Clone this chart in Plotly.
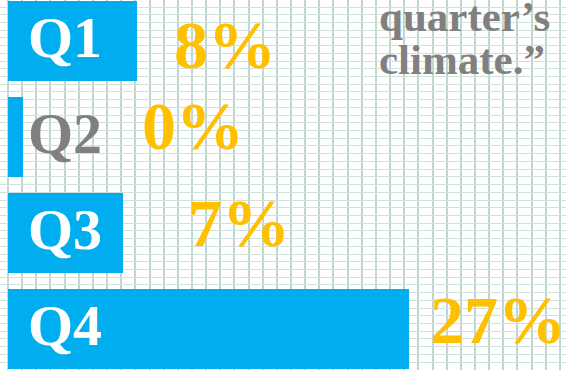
import plotly.graph_objects as go

quarters = ["Q1", "Q2", "Q3", "Q4"]
values = [8, 0, 7, 27]
pct_labels = ["8%", "0%", "7%", "27%"]
quote_lines = ["quarter’s", "climate.”"]

BLUE = "#00AEEF"
GOLD = "#FFC000"
GREY = "#808080"
GRID_V = "#c0d6ce"
GRID_H = "#cfe1db"

W, H = 566, 370
PX_PER_UNIT = 14.3
GRID_PX = 14.15
ZERO_PX = 22.6
ROW_PITCH = 96.0
ROW0_PX = 40.5
BASE = -1

ypos = list(range(len(quarters)))

fig = go.Figure()
fig.add_trace(go.Bar(
    y=ypos,
    x=[v - BASE for v in values],
    base=BASE,
    orientation="h",
    width=80 / ROW_PITCH,
    marker=dict(color=BLUE, line=dict(width=0)),
    hoverinfo="skip",
    showlegend=False,
))

pct_xshift = [35, 117, 63, 19]
pct_yshift = [-4, 11, 10, 9]
q_yshift = [3, 3, 3, 3]

annotations = []
for i, (q, v, lab) in enumerate(zip(quarters, values, pct_labels)):
    inside = v > 2
    annotations.append(dict(
        x=BASE, y=i, xref="x", yref="y", text="<b>%s</b>" % q,
        xanchor="left", yanchor="middle", xshift=18, yshift=q_yshift[i],
        showarrow=False,
        font=dict(family="Liberation Serif", size=58, color="white" if inside else GREY),
    ))
    annotations.append(dict(
        x=v, y=i, xref="x", yref="y", text="<b>%s</b>" % lab,
        xanchor="left", yanchor="middle", xshift=pct_xshift[i], yshift=pct_yshift[i],
        showarrow=False,
        font=dict(family="Liberation Serif", size=68, color=GOLD),
    ))

quote_centers_px = [17, 59]
for line, cy in zip(quote_lines, quote_centers_px):
    annotations.append(dict(
        x=377 / W, y=1 - cy / H, xref="paper", yref="paper", text="<b>%s</b>" % line,
        xanchor="left", yanchor="middle", showarrow=False,
        font=dict(family="Liberation Serif", size=43, color=GREY),
    ))

fig.update_layout(
    width=W, height=H,
    margin=dict(l=0, r=0, t=0, b=0),
    paper_bgcolor="white", plot_bgcolor="white",
    xaxis=dict(
        range=[-ZERO_PX / PX_PER_UNIT, (W - ZERO_PX) / PX_PER_UNIT],
        tick0=(8 - ZERO_PX) / PX_PER_UNIT, dtick=GRID_PX / PX_PER_UNIT,
        showgrid=True, gridcolor=GRID_V, gridwidth=1.5,
        zeroline=False, showticklabels=False, ticks="", showline=False, fixedrange=True,
    ),
    yaxis=dict(
        range=[(H - ROW0_PX) / ROW_PITCH, -ROW0_PX / ROW_PITCH],
        tick0=(7 - ROW0_PX) / ROW_PITCH, dtick=7.72 / ROW_PITCH,
        showgrid=True, gridcolor=GRID_H, gridwidth=1,
        zeroline=False, showticklabels=False, ticks="", showline=False, fixedrange=True,
    ),
    annotations=annotations,
    bargap=0,
)

fig.write_html("out.html")
